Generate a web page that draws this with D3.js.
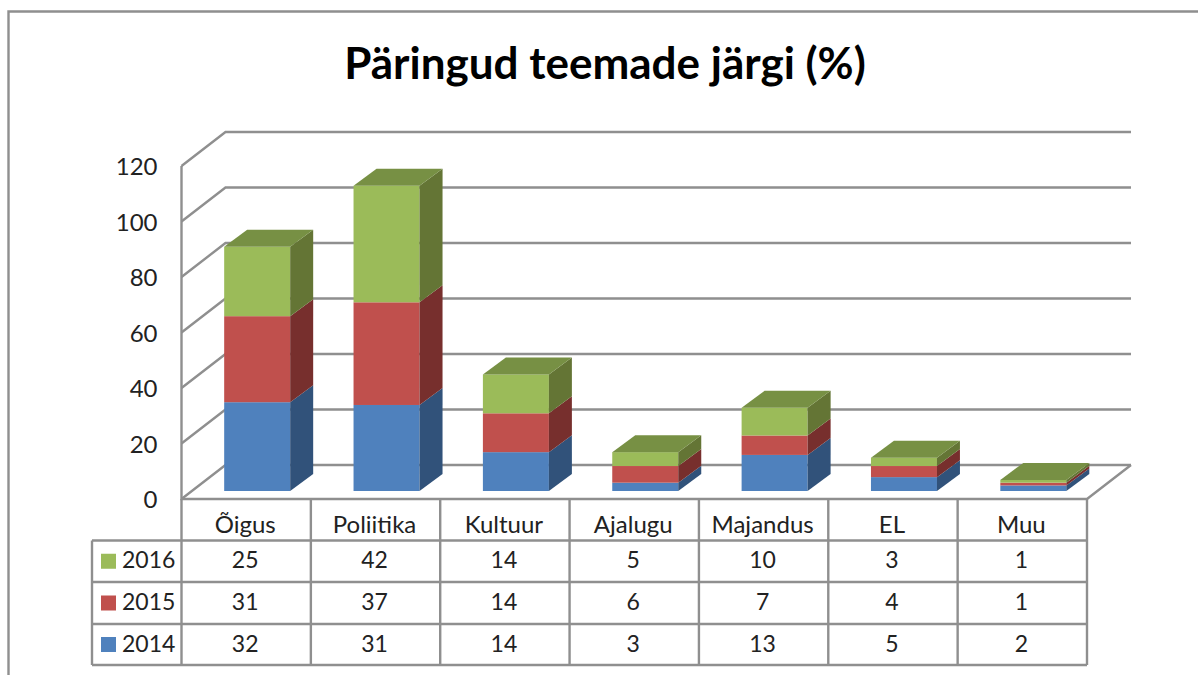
<!DOCTYPE html>
<html>
<head>
<meta charset="utf-8">
<script src="https://cdnjs.cloudflare.com/ajax/libs/d3/7.8.5/d3.min.js"></script>
<style>
  html, body { margin: 0; padding: 0; background: #fff; overflow: hidden; }
  text { font-family: Lato, "Open Sans", sans-serif; fill: #222; }
</style>
</head>
<body>
<div id="chart"></div>
<script>
// data
const categories = ['Õigus', 'Poliitika', 'Kultuur', 'Ajalugu', 'Majandus', 'EL', 'Muu'];
const years = ['2014', '2015', '2016'];
const values2014 = [32, 31, 14, 3, 13, 5, 2];
const values2015 = [31, 37, 14, 6, 7, 4, 1];
const values2016 = [25, 42, 14, 5, 10, 3, 1];
const yTicks = [0, 20, 40, 60, 80, 100, 120];
const chartTitle = 'Päringud teemade järgi (%)';

const seriesValues = { 2014: values2014, 2015: values2015, 2016: values2016 };
const colors = {
    2014: { front: '#4f81bd', side: '#31527a' },
    2015: { front: '#c0504d', side: '#772f2d' },
    2016: { front: '#9bbb59', side: '#647535' }
};
const topColor = '#779044';
const lineColor = '#8f8f8f';
const lineWidth = 2.4;

const width = 1198, height = 675;
const svg = d3.select('#chart').append('svg')
    .attr('width', width)
    .attr('height', height);

// plot front plane, the walls are shifted back by wall.dx / wall.dy
const plot = { left: 181.5, right: 1087, top: 166, bottom: 499 };
const wall = { dx: 44, dy: -34 };
const shift = { dx: 11, dy: -8 };   // bars stand a bit behind the front edge
const depth = { dx: 23, dy: -17 };

const x = d3.scaleBand().domain(categories).range([plot.left, plot.right]);
const y = d3.scaleLinear().domain([0, 120]).range([plot.bottom, plot.top]);
const barWidth = 66;

// outer frame
svg.append('path')
    .attr('d', `M8.5,${height}V11.5H${width}`)
    .attr('fill', 'none')
    .attr('stroke', lineColor)
    .attr('stroke-width', lineWidth);

// title
svg.append('text')
    .attr('x', 605)
    .attr('y', 79)
    .attr('text-anchor', 'middle')
    .style('font-size', '44px')
    .style('font-weight', 700)
    .style('fill', '#000')
    .text(chartTitle);

// walls and floor
const grid = svg.append('g')
    .attr('fill', 'none')
    .attr('stroke', lineColor)
    .attr('stroke-width', lineWidth);

grid.selectAll('path.gridline')
    .data(yTicks)
    .enter().append('path')
    .attr('class', 'gridline')
    .attr('d', d => `M${plot.left},${y(d)}L${plot.left + wall.dx},${y(d) + wall.dy}H${plot.right + wall.dx}`);

grid.append('path')
    .attr('d', `M${plot.left},${y(120)}V${y(0)}H${plot.right}L${plot.right + wall.dx},${y(0) + wall.dy}`);

// y axis labels
const yAxis = d3.axisLeft(y).tickValues(yTicks).tickSize(0).tickPadding(24);
const yAxisG = svg.append('g')
    .attr('transform', `translate(${plot.left},1)`)
    .call(yAxis);
yAxisG.select('.domain').remove();
yAxisG.selectAll('text')
    .style('font-size', '24px')
    .style('font-family', 'Lato, sans-serif')
    .style('fill', '#222');

// stacked 3d bars
const rows = categories.map((c, i) => {
    const row = { category: c };
    years.forEach(yr => { row[yr] = seriesValues[yr][i]; });
    return row;
});
const stacked = d3.stack().keys(years)(rows);

const quad = pts => 'M' + pts.map(p => p.join(',')).join('L') + 'Z';

stacked.forEach(layer => {
    const g = svg.append('g').attr('class', 'series-' + layer.key);
    const c = colors[layer.key];

    g.selectAll('rect')
        .data(layer)
        .enter().append('rect')
        .attr('x', d => x(d.data.category) + (x.bandwidth() - barWidth) / 2 + shift.dx)
        .attr('y', d => y(d[1]) + shift.dy)
        .attr('width', barWidth)
        .attr('height', d => y(d[0]) - y(d[1]))
        .attr('fill', c.front);

    g.selectAll('path')
        .data(layer)
        .enter().append('path')
        .attr('fill', c.side)
        .attr('d', d => {
            const xr = x(d.data.category) + (x.bandwidth() + barWidth) / 2 + shift.dx;
            const y0 = y(d[0]) + shift.dy, y1 = y(d[1]) + shift.dy;
            return quad([[xr, y1], [xr + depth.dx, y1 + depth.dy], [xr + depth.dx, y0 + depth.dy], [xr, y0]]);
        });
});

// top face of each stack
const topLayer = stacked[stacked.length - 1];
svg.append('g').selectAll('path')
    .data(topLayer)
    .enter().append('path')
    .attr('fill', topColor)
    .attr('d', d => {
        const xl = x(d.data.category) + (x.bandwidth() - barWidth) / 2 + shift.dx;
        const yt = y(d[1]) + shift.dy;
        return quad([[xl, yt], [xl + barWidth, yt], [xl + barWidth + depth.dx, yt + depth.dy], [xl + depth.dx, yt + depth.dy]]);
    });

// data table below the plot
const table = { left: 92, rowLines: [499, 540.5, 582, 624, 665] };
const tableRows = ['2016', '2015', '2014'];

const tableLines = svg.append('g')
    .attr('fill', 'none')
    .attr('stroke', lineColor)
    .attr('stroke-width', lineWidth);

table.rowLines.slice(1).forEach(ly => {
    tableLines.append('path').attr('d', `M${table.left},${ly}H${plot.right}`);
});
tableLines.append('path')
    .attr('d', `M${table.left},${table.rowLines[1]}V${table.rowLines[4]}`);
categories.forEach(c => {
    tableLines.append('path').attr('d', `M${x(c)},${plot.bottom}V${table.rowLines[4]}`);
});
tableLines.append('path').attr('d', `M${plot.right},${plot.bottom}V${table.rowLines[4]}`);

// category labels
svg.append('g').selectAll('text')
    .data(categories)
    .enter().append('text')
    .attr('x', d => x(d) + x.bandwidth() / 2 - 1)
    .attr('y', 533)
    .attr('text-anchor', 'middle')
    .style('font-size', '24px')
    .text(d => d);

// rows: legend key + values
tableRows.forEach((yr, r) => {
    const top = table.rowLines[r + 1], bottom = table.rowLines[r + 2];
    const mid = (top + bottom) / 2;
    const g = svg.append('g');

    g.append('rect')
        .attr('x', 101)
        .attr('y', mid - 7.5)
        .attr('width', 15)
        .attr('height', 15)
        .attr('fill', colors[yr].front);

    g.append('text')
        .attr('x', 122)
        .attr('y', mid + 7)
        .style('font-size', '23px')
        .text(yr);

    g.selectAll('text.value')
        .data(seriesValues[yr])
        .enter().append('text')
        .attr('class', 'value')
        .attr('x', (d, i) => x(categories[i]) + x.bandwidth() / 2 - 1)
        .attr('y', mid + 7)
        .attr('text-anchor', 'middle')
        .style('font-size', '23px')
        .text(d => d);
});
</script>
</body>
</html>
